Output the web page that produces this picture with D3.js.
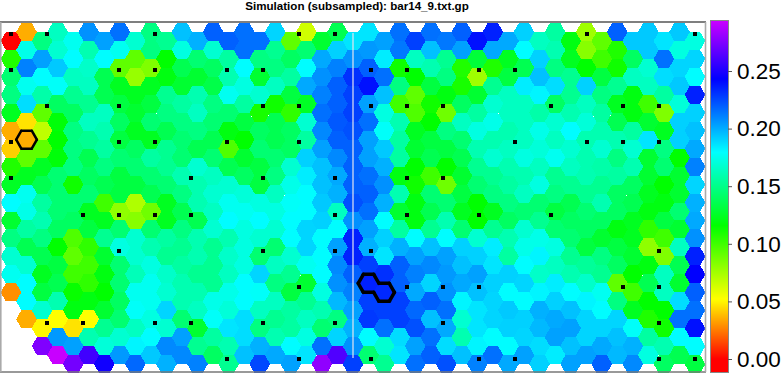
<!DOCTYPE html>
<html>
<head>
<meta charset="utf-8">
<script src="https://cdn.jsdelivr.net/npm/d3@7"></script>
<style>
  html, body { margin: 0; padding: 0; background: #fff; }
  svg { display: block; }
</style>
</head>
<body>
<svg id="svg" width="783" height="373"></svg>
<script>
const titleText = 'Simulation (subsampled): bar14_9.txt.gp'
const colourTicks = [0, 0.05, 0.1, 0.15, 0.2, 0.25]

// one list per hexagon column, top row first. null = no hexagon there
const hexValues = [
  [0, .108, .144, .148, .124, .035, .042, .108, .125, .18, .128, .148, .168, .176, .029, null, null, null, null],
  [.035, .174, .211, .176, .188, .046, .035, .092, .124, .176, .174, .156, .136, .168, .18, .18, .035, null, null],
  [.148, .203, .18, .158, .092, .068, .092, .125, .136, .156, .16, .148, .136, .124, .132, .168, .05, .275, null],
  [.164, .168, .193, .178, .14, .118, .116, .118, .144, .144, .144, .14, .116, .132, .136, .16, .052, .205, .293],
  [.176, .18, .164, .152, .14, .148, .148, .148, .112, .144, .14, .096, .092, .1, .114, .12, .046, .203, .272],
  [.207, .16, .166, .164, .152, .164, .152, .136, .14, .144, .124, .132, .104, .1, .104, .12, .052, .16, .259],
  [.203, .18, .136, .136, .164, .16, .156, .148, .136, .1, .124, .152, .128, .12, .116, .128, .152, .17, .247],
  [.215, .176, .092, .124, .132, .14, .132, .144, .132, .132, .08, .144, .172, .144, .144, .14, .144, .168, .205],
  [.168, .092, .078, .124, .128, .124, .14, .144, .132, .072, .082, .168, .168, .162, .176, .178, .164, .182, .217],
  [.148, .148, .084, .124, .132, .144, .124, .156, .144, .136, .088, .144, .16, .172, .176, .176, .172, .18, .193],
  [.152, .116, .12, .152, .148, .136, .152, .152, .144, .124, .124, .156, .152, .166, .168, .19, .168, .209, .199],
  [.195, .172, .136, .128, .156, .148, .144, .144, .16, .148, .136, .148, .152, .156, .16, .16, .144, .203, .209],
  [.199, .144, .128, .16, .164, .148, .136, .168, .16, .16, .136, .16, .16, .152, .16, .164, .128, .152, .211],
  [.219, .168, .14, .134, .148, .144, .136, .144, .164, .168, .164, .168, .152, .152, .152, .174, .178, .156, .14],
  [.219, .156, .16, .176, .144, .12, .096, .136, .168, .176, .18, .16, .166, .164, .174, .17, .186, .16, .152],
  [.215, .215, .18, .172, .156, .132, .116, .128, .14, .17, .176, .172, .172, .172, .18, .18, .188, .188, .195],
  [.215, .148, .128, .168, .11, .14, .144, .132, .132, .172, .18, .168, .144, .19, .178, .164, .148, .199, .225],
  [.19, .152, .148, .164, .112, .136, .136, .144, .148, .164, .172, .168, .144, .164, .148, .164, .152, .16, .201],
  [.092, .14, .156, .132, .104, .14, .14, .168, .174, .178, .18, .18, .168, .152, .132, .156, .156, .18, .203],
  [.064, .144, .18, .201, .125, .168, .156, .191, .184, .18, .18, .19, .19, .176, .128, .152, .164, .172, .186],
  [.128, .201, .207, .211, .215, .209, .203, .195, .195, .193, .191, .18, .18, .18, .172, .16, .144, .215, .279],
  [.136, .191, .211, .219, .219, .221, .219, .209, .201, .199, .164, .18, .203, .209, .207, .197, .148, .19, .263],
  [.186, .207, .231, .227, .227, .223, .219, .219, .219, .223, .207, .235, .235, .219, .211, .203, .199, .207, .227],
  [.186, .205, .219, .239, .203, .215, .203, .203, .215, .219, .215, .203, .199, .227, .235, .227, .229, .18, .144],
  [.203, .184, .215, .195, .172, .178, .193, .199, .207, .199, .18, .191, .186, .231, .233, .227, .215, .168, .152],
  [.215, .213, .112, .148, .1, .16, .156, .156, .12, .16, .128, .156, .199, .219, .219, .227, .227, .188, .186],
  [.227, .164, .116, .092, .096, .124, .128, .116, .112, .12, .12, .18, .203, .211, .201, .217, .223, .203, .215],
  [.215, .195, .16, .132, .112, .116, .132, .136, .1, .144, .136, .152, .195, .209, .19, .219, .195, .215, .219],
  [.213, .152, .148, .12, .088, .148, .132, .116, .088, .144, .16, .18, .203, .205, .207, .215, .201, .188, .223],
  [.219, .203, .108, .11, .14, .164, .144, .136, .128, .132, .124, .144, .191, .195, .201, .182, .168, .16, .195],
  [.239, .13, .076, .128, .156, .172, .16, .152, .144, .116, .116, .168, .191, .203, .195, .186, .186, .182, .211],
  [.235, .201, .108, .152, .168, .174, .16, .168, .152, .148, .124, .152, .184, .186, .191, .19, .19, .18, .215],
  [.201, .124, .132, .164, .164, .16, .164, .16, .156, .148, .14, .16, .156, .191, .18, .193, .191, .18, .201],
  [.191, .18, .136, .184, .164, .164, .164, .172, .16, .164, .144, .168, .174, .18, .19, .18, .191, .19, .203],
  [.164, .191, .195, .182, .158, .174, .17, .164, .172, .144, .152, .174, .182, .166, .182, .199, .197, .188, .191],
  [.156, .16, .148, .188, .14, .168, .164, .176, .152, .148, .132, .144, .172, .164, .184, .191, .201, .203, .184],
  [.12, .124, .152, .152, .16, .18, .168, .164, .152, .136, .14, .144, .152, .16, .18, .195, .203, .195, .203],
  [.076, .082, .116, .191, .164, .17, .16, .16, .16, .152, .144, .14, .132, .154, .166, .182, .19, .19, .203],
  [.092, .1, .132, .148, .156, .16, .168, .158, .152, .16, .14, .128, .148, .152, .176, .18, .19, .201, .219],
  [.219, .108, .112, .152, .124, .136, .16, .148, .156, .14, .14, .12, .132, .14, .092, .148, .19, .195, .197],
  [.193, .14, .164, .12, .12, .156, .168, .16, .14, .136, .124, .124, .128, .116, .1, .124, .178, .199, .209],
  [.193, .193, .168, .164, .1, .128, .186, .128, .128, .124, .12, .104, .08, .12, .136, .116, .108, .156, .172],
  [.186, .215, .188, .156, .084, .124, .148, .144, .116, .12, .132, .1, .084, .164, .164, .116, .112, .16, .14],
  [.193, .172, .19, .193, .17, .191, .191, .116, .128, .128, .144, .128, .164, .136, .128, .188, .215, .18, .136],
  [.172, .19, .18, .235, .191, .195, .201, .211, .19, .199, .201, .207, .235, .243, .219, .215, .239, .18, .132]
]

// subsampled positions: for each row of the coarse grid, the coarse columns marked
const sampleRows = [
  [0, 1, 4, 8, 9, 16, 19],
  [0, 3, 4, 6, 7, 10, 11, 13, 14],
  [1, 3, 7, 8, 10, 11, 12, 15, 17, 18],
  [0, 3, 4, 6, 8, 14, 16, 17, 18],
  [0, 5, 7, 9, 11, 12],
  [2, 3, 4, 5, 9, 11, 13, 15],
  [3, 7, 9, 10, 18],
  [8, 11, 12, 13, 17, 18],
  [1, 2, 4, 5, 7, 9, 12, 18],
  [6, 8, 10, 13, 14, 18, 19]
]

// [column, row] of hexagons with a heavy outline
const outlinedGroups = [
  { cells: [[1, 6]], width: 2.5 },
  { cells: [[23, 14], [24, 14]], width: 3.5 }
]
const splitColumn = 22

const svg = d3.select('#svg')

const xScale = d3.scaleLinear().domain([0, 44]).range([11, 695])
// half-row units, odd columns sit half a row higher
const yScale = d3.scaleLinear().domain([0, 37]).range([32, 364.1])
const sampleX = d3.scaleLinear().domain([0, 19]).range([11, 695])
const sampleY = d3.scaleLinear().domain([0, 9]).range([34, 359])
const colourY = d3.scaleLinear().domain([0, 0.25]).range([359, 71])
const hueScale = d3.scaleLinear().domain([0, 0.05, 0.294]).range([0, 58, 288]).clamp(true)
const colour = v => d3.hsl(hueScale(v), 1, 0.5).formatHex()

const radius = (xScale(1) - xScale(0)) / 1.5
const halfHeight = radius * Math.sqrt(3) / 2
const hexCorners = (cx, cy) => [
  [cx - radius, cy], [cx - radius / 2, cy - halfHeight], [cx + radius / 2, cy - halfHeight],
  [cx + radius, cy], [cx + radius / 2, cy + halfHeight], [cx - radius / 2, cy + halfHeight]
]
const centreX = col => xScale(col)
const centreY = (col, row) => yScale(2 * row + (col % 2 === 0 ? 1 : 0))

const cells = hexValues.flatMap((values, col) =>
  values.map((value, row) => ({ col, row, value })).filter(d => d.value !== null))

svg.append('g')
  .selectAll('path')
  .data(cells)
  .join('path')
  .attr('d', d => d3.line()(hexCorners(centreX(d.col), centreY(d.col, d.row))) + 'Z')
  .attr('fill', d => colour(d.value))
  .attr('shape-rendering', 'crispEdges')

// plot frame
const frame = svg.append('g')
frame.append('line').attr('x1', 0).attr('x2', 706).attr('y1', 22).attr('y2', 22)
  .attr('stroke', '#555').attr('stroke-width', 1.5)
frame.append('line').attr('x1', 0).attr('x2', 706).attr('y1', 372).attr('y2', 372)
  .attr('stroke', '#777').attr('stroke-width', 1.5)
frame.append('line').attr('x1', 0.8).attr('x2', 0.8).attr('y1', 22).attr('y2', 372)
  .attr('stroke', '#aaa').attr('stroke-width', 1.6)
frame.append('line').attr('x1', 705.5).attr('x2', 705.5).attr('y1', 22).attr('y2', 372)
  .attr('stroke', '#aaa').attr('stroke-width', 1.6)

const samples = sampleRows.flatMap((cols, j) => cols.map(k => ({ k, j })))
svg.append('g')
  .selectAll('rect')
  .data(samples)
  .join('rect')
  .attr('x', d => Math.round(sampleX(d.k)) - 2)
  .attr('y', d => Math.round(sampleY(d.j)) - 2)
  .attr('width', 4)
  .attr('height', 4)
  .attr('fill', 'black')

// heavy outline, edges shared by two marked hexagons are dropped
outlinedGroups.forEach(group => {
  const edges = group.cells.flatMap(([col, row]) => {
    const pts = hexCorners(centreX(col), centreY(col, row))
    return pts.map((p, i) => [p, pts[(i + 1) % 6]])
  })
  const edgeKey = ([a, b]) => `${Math.round(a[0] + b[0])},${Math.round(a[1] + b[1])}`
  const counts = d3.rollup(edges, v => v.length, edgeKey)
  svg.append('g')
    .selectAll('line')
    .data(edges.filter(e => counts.get(edgeKey(e)) === 1))
    .join('line')
    .attr('x1', d => d[0][0])
    .attr('y1', d => d[0][1])
    .attr('x2', d => d[1][0])
    .attr('y2', d => d[1][1])
    .attr('stroke', 'black')
    .attr('stroke-width', group.width)
    .attr('stroke-linecap', 'round')
})

svg.append('line')
  .attr('x1', xScale(splitColumn))
  .attr('x2', xScale(splitColumn))
  .attr('y1', 33)
  .attr('y2', 358)
  .attr('stroke', '#e4e4ee')
  .attr('stroke-width', 1.2)

svg.append('text')
  .text(titleText)
  .attr('x', 357)
  .attr('y', 10)
  .attr('text-anchor', 'middle')
  .style('font-family', '"Liberation Sans", sans-serif')
  .style('font-weight', 'bold')
  .style('font-size', '11.6px')

// colour bar
const barX = 711
const barW = 17
const barTop = 21
const barBottom = 372
svg.append('g')
  .selectAll('rect')
  .data(d3.range(barTop, barBottom))
  .join('rect')
  .attr('x', barX)
  .attr('y', d => d)
  .attr('width', barW)
  .attr('height', 1)
  .attr('fill', d => colour(colourY.invert(d + 0.5)))

svg.append('rect')
  .attr('x', barX - 0.5)
  .attr('y', barTop - 0.5)
  .attr('width', barW + 1)
  .attr('height', barBottom - barTop + 1)
  .attr('fill', 'none')
  .attr('stroke', '#888')

const colourAxis = svg.append('g')
  .attr('transform', `translate(${barX + barW}, 0)`)
  .call(d3.axisRight(colourY).tickValues(colourTicks).tickFormat(d3.format('.2f')).tickSize(4).tickPadding(5))
colourAxis.select('.domain').remove()
colourAxis.selectAll('line').attr('stroke', '#555')
colourAxis.selectAll('text')
  .attr('fill', 'black')
  .style('font-family', '"Liberation Sans", sans-serif')
  .style('font-size', '22.5px')
</script>
</body>
</html>
